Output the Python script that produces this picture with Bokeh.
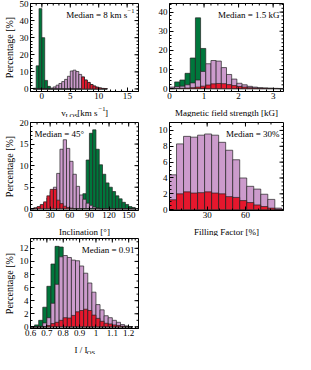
import numpy as np
from bokeh.plotting import figure
from bokeh.layouts import gridplot
from bokeh.models import Range1d, LinearAxis, Label, FixedTicker, ColumnDataSource
from bokeh.core.properties import value
from bokeh.embed import file_html
from bokeh.resources import INLINE

GREEN = "#00773c"
LILAC = "#cc9bcc"
RED = "#e6172d"
EDGE = "#222222"
FONT = "Liberation Serif"

# ---------------- data ----------------
# Panel 1: v_LOS, bin width 0.5 km/s (left edges)
v_left = [-1.5, -1.0, -0.5, 0.0, 0.5, 1.0, 1.5, 2.0, 2.5, 3.0, 3.5, 4.0, 4.5,
          5.0, 5.5, 6.0, 6.5, 7.0, 7.5, 8.0, 8.5, 9.0, 9.5, 10.0, 10.5, 11.0]
v_green = [0.4, 13.5, 47.0, 30.0, 5.0, 1.5, 0, 0, 0, 0, 0, 0, 0,
           0, 0, 0, 0, 0, 0, 0, 0, 0, 0, 0, 0, 0]
v_lilac = [0, 0, 0, 0, 0, 0, 0.5, 1.2, 2.2, 3.2, 4.3, 5.6, 7.4,
           10.5, 11.0, 10.2, 8.5, 7.0, 5.2, 3.8, 2.6, 1.7, 1.0, 0.6, 0.3, 0.15]
v_red = [0, 0, 0, 0, 0, 0, 0, 0, 0, 0, 0, 0, 0,
         0, 0, 0, 0, 7.0, 5.2, 3.8, 2.6, 1.7, 1.0, 0.6, 0.3, 0.15]

# Panel 2: field strength, bin width 0.15 kG
b_left = [0.0, 0.15, 0.3, 0.45, 0.6, 0.75, 0.9, 1.05, 1.2, 1.35, 1.5, 1.65,
          1.8, 1.95, 2.1, 2.25, 2.4, 2.55, 2.7, 2.85, 3.0, 3.15]
b_green = [0, 3.5, 4.5, 8.0, 16.0, 37.0, 21.0, 0, 0, 0, 0, 0,
           0, 0, 0, 0, 0, 0, 0, 0, 0, 0]
b_lilac = [0.8, 1.0, 1.3, 2.0, 3.0, 4.5, 9.0, 13.0, 14.7, 14.4, 11.0, 7.4,
           5.0, 2.8, 2.0, 1.2, 0.8, 0.5, 0.35, 0.25, 0.15, 0.1]
b_red = [0, 0.1, 0.2, 0.3, 0.5, 0.8, 1.3, 1.9, 2.5, 2.7, 2.6, 2.1,
         1.6, 1.1, 0.8, 0.5, 0.35, 0.25, 0.2, 0.1, 0.05, 0]

# Panel 3: inclination, bin width 5 deg
i_left = [0, 5, 10, 15, 20, 25, 30, 35, 40, 45, 50, 55, 60, 65, 70, 75, 80,
          85, 90, 95, 100, 105, 110, 115, 120, 125, 130, 135, 140, 145, 150, 155]
i_green = [0, 0, 0, 0, 0, 0, 0, 0, 0, 0, 0, 0, 0, 0, 0, 0, 3.5,
           11.3, 17.5, 18.3, 13.8, 10.2, 8.0, 6.0, 5.0, 4.0, 3.0, 2.3, 1.5, 1.0, 0.5, 0.3]
i_lilac = [0, 0.2, 0.4, 0.8, 1.3, 2.5, 4.0, 5.0, 8.2, 13.8, 16.0, 14.0, 11.0, 8.0, 5.2, 3.2, 2.2,
           1.3, 0.8, 0.4, 0.2, 0, 0, 0, 0, 0, 0, 0, 0, 0, 0, 0]
i_red = [0, 0.2, 0.5, 1.0, 1.6, 3.0, 4.5, 4.5, 2.0, 1.2, 0.6, 0.3, 0.15, 0, 0, 0, 0,
         0, 0, 0, 0, 0, 0, 0, 0, 0, 0, 0, 0, 0, 0, 0]

# Panel 4: filling factor, bin width 5.5 %
f_left = [0.5, 6.0, 11.5, 17.0, 22.5, 28.0, 33.5, 39.0, 44.5, 50.0, 55.5, 61.0,
          66.5, 72.0, 77.5, 83.0]
f_lilac = [4.4, 8.3, 9.25, 9.15, 9.4, 9.55, 9.4, 8.5, 7.5, 6.3, 4.0, 2.95,
           2.6, 1.95, 1.3, 0.2]
f_red = [1.25, 2.0, 2.25, 2.1, 2.15, 2.25, 2.1, 2.0, 1.65, 1.55, 1.15, 0.9,
         0.6, 0.4, 0.2, 0.05]

# Panel 5: continuum intensity, bin width 0.025
c_left = [0.6, 0.625, 0.65, 0.675, 0.7, 0.725, 0.75, 0.775, 0.8, 0.825, 0.85, 0.875,
          0.9, 0.925, 0.95, 0.975, 1.0, 1.025, 1.05, 1.075, 1.1, 1.125, 1.15, 1.175, 1.2]
c_green = [0, 0.3, 1.0, 3.0, 6.2, 9.6, 12.3, 12.2, 0, 0, 0, 0,
           0, 0, 0, 0, 0, 0, 0, 0, 0, 0, 0, 0, 0]
c_lilac = [0, 0, 0.1, 0.6, 1.4, 3.6, 6.5, 10.7, 10.9, 10.6, 10.2, 10.1,
           9.3, 8.2, 6.7, 5.3, 3.4, 2.6, 1.7, 1.4, 1.0, 0.7, 0.35, 0.15, 0.05]
c_red = [0, 0, 0, 0, 0.2, 0.5, 0.7, 1.0, 1.4, 1.35, 1.75, 2.3,
         2.5, 2.7, 2.5, 1.8, 1.3, 0.85, 0.55, 0.45, 0.3, 0.2, 0.1, 0.05, 0]

LBL = "Percentage [%]"
FS = "9px"      # tick labels, x labels, medians
FSS = "6.5px"   # sub/superscripts


def make_fig(w, h, xr, yr, bl, br, bt, bb):
    p = figure(width=w, height=h, x_range=Range1d(*xr), y_range=Range1d(*yr),
               output_backend="svg", toolbar_location=None, title=None,
               min_border_left=bl, min_border_right=br,
               min_border_top=bt, min_border_bottom=bb,
               x_axis_location=None, y_axis_location=None)
    p.xgrid.visible = False
    p.ygrid.visible = False
    p.outline_line_color = "black"
    p.outline_line_width = 1
    p.background_fill_color = "white"
    p.border_fill_color = "white"
    return p


def style_axis(ax):
    ax.major_tick_in = 4
    ax.major_tick_out = 0
    ax.minor_tick_in = 2
    ax.minor_tick_out = 0
    ax.axis_line_color = "black"
    ax.major_tick_line_color = "black"
    ax.minor_tick_line_color = "black"
    ax.major_label_text_font = FONT
    ax.major_label_text_color = "black"
    ax.major_label_text_font_size = FS
    ax.major_label_standoff = 1
    ax.axis_label_text_font = FONT
    ax.axis_label_text_font_style = "normal"
    ax.axis_label_text_color = "black"
    ax.axis_label_text_font_size = "10px"


def add_axes(p, xr, yr, xt, xm, yt, ym, ylabel=None):
    xb = LinearAxis(ticker=FixedTicker(ticks=xt, minor_ticks=xm))
    style_axis(xb)
    p.add_layout(xb, "below")
    yl = LinearAxis(ticker=FixedTicker(ticks=yt, minor_ticks=ym))
    style_axis(yl)
    yl.major_label_standoff = 2
    if ylabel:
        yl.axis_label = ylabel
        yl.axis_label_standoff = 2
    p.add_layout(yl, "left")
    # inward ticks on the top and right frame edges (outer half of each dash is clipped)
    xt_in = [t for t in xt if xr[0] < t < xr[1]]
    xm_in = [t for t in xm if xr[0] < t < xr[1]]
    yt_in = [t for t in yt if yr[0] < t < yr[1]]
    ym_in = [t for t in ym if yr[0] < t < yr[1]]
    p.scatter(x=xt_in, y=[yr[1]] * len(xt_in), marker="dash", angle=np.pi / 2,
              size=8, line_color="black", line_width=1)
    p.scatter(x=xm_in, y=[yr[1]] * len(xm_in), marker="dash", angle=np.pi / 2,
              size=4, line_color="black", line_width=1)
    p.scatter(x=[xr[1]] * len(yt_in), y=yt_in, marker="dash",
              size=8, line_color="black", line_width=1)
    p.scatter(x=[xr[1]] * len(ym_in), y=ym_in, marker="dash",
              size=4, line_color="black", line_width=1)


def bars(p, left, width, vals, color):
    src = ColumnDataSource(dict(left=left,
                                right=[l + width for l in left],
                                top=vals,
                                bottom=[0] * len(vals)))
    p.quad(left="left", right="right", top="top", bottom="bottom", source=src,
           fill_color=color, line_color=EDGE, line_width=0.7)


def add_median(p, xr, yr, text, sup=None, right=True):
    if right:
        off = -4
        if sup:
            p.add_layout(Label(x=xr[1], y=yr[1], x_offset=off, y_offset=-7.5,
                               text=sup, text_align="right", text_baseline="alphabetic",
                               text_font=FONT, text_font_size=FSS, text_color="black"))
            off -= 7.2
        p.add_layout(Label(x=xr[1], y=yr[1], x_offset=off, y_offset=-11,
                           text=text, text_align="right", text_baseline="alphabetic",
                           text_font=FONT, text_font_size=FS, text_color="black"))
    else:
        p.add_layout(Label(x=xr[0], y=yr[1], x_offset=4, y_offset=-11,
                           text=text, text_align="left", text_baseline="alphabetic",
                           text_font=FONT, text_font_size=FS, text_color="black"))


SH = 15   # height of the x-label strips
BY = 5.0  # baseline of x labels inside strips (from strip bottom)


def strip(w, bl, br, pieces):
    # pieces: (x px from frame left, baseline px from bottom, text, font size, align)
    s = figure(width=w, height=SH, x_range=Range1d(0, w - bl - br), y_range=Range1d(0, SH),
               output_backend="svg", toolbar_location=None, title=None,
               min_border_left=bl, min_border_right=br, min_border_top=0, min_border_bottom=0,
               x_axis_location=None, y_axis_location=None)
    s.xgrid.visible = False
    s.ygrid.visible = False
    s.outline_line_color = None
    for x, y, txt, fs, al in pieces:
        s.text(x=[x], y=[y], text=[txt], text_font=value(FONT), text_font_size=fs,
               text_align=al, text_baseline="alphabetic", text_color="black")
    return s


def mticks(a, b, step):
    return list(np.round(np.arange(a, b + step / 2, step), 6))


FW = 114
WL, WR = 147, 143

# ---------- panel 1 ----------
xr1, yr1 = (-2.0, 17.0), (-1.5, 50.0)
p1 = make_fig(WL, 102, xr1, yr1, 24, 9, 3, 11)
add_axes(p1, xr1, yr1, [0, 5, 10, 15], mticks(-2, 17, 1), [0, 10, 20, 30, 40, 50],
         mticks(0, 50, 2), LBL)
bars(p1, v_left, 0.5, v_green, GREEN)
bars(p1, v_left, 0.5, v_lilac, LILAC)
bars(p1, v_left, 0.5, v_red, RED)
add_median(p1, xr1, yr1, "Median = 8 km s", sup="\u22121")
x0 = FW / 2 - 24.6
s1 = strip(WL, 24, 9, [(x0, BY, "v", FS, "left"), (x0 + 4.6, BY - 2.5, "LOS", FSS, "left"),
                        (x0 + 16.9, BY, " [km s", FS, "left"),
                        (x0 + 39.4, BY + 3.5, "\u22121", FSS, "left"),
                        (x0 + 46.3, BY, "]", FS, "left")])

# ---------- panel 2 ----------
xr2, yr2 = (0.0, 3.3), (-1.5, 44.5)
p2 = make_fig(WR, 102, xr2, yr2, 22, 7, 3, 11)
add_axes(p2, xr2, yr2, [0, 1, 2, 3], mticks(0, 3.2, 0.2), [0, 10, 20, 30, 40],
         mticks(0, 44, 2))
bars(p2, b_left, 0.15, b_green, GREEN)
bars(p2, b_left, 0.15, b_lilac, LILAC)
bars(p2, b_left, 0.15, b_red, RED)
add_median(p2, xr2, yr2, "Median = 1.5 kG")
s2 = strip(WR, 22, 7, [(FW / 2, BY, "Magnetic field strength [kG]", FS, "center")])

# ---------- panel 3 ----------
xr3, yr3 = (0.0, 165.0), (-0.4, 20.0)
p3 = make_fig(WL, 104, xr3, yr3, 24, 9, 5, 11)
add_axes(p3, xr3, yr3, [0, 30, 60, 90, 120, 150], mticks(0, 165, 10), [0, 5, 10, 15, 20],
         mticks(0, 20, 1), LBL)
bars(p3, i_left, 5, i_green, GREEN)
bars(p3, i_left, 5, i_lilac, LILAC)
bars(p3, i_left, 5, i_red, RED)
add_median(p3, xr3, yr3, "Median = 45\u00b0", right=False)
s3 = strip(WL, 24, 9, [(FW / 2, BY, "Inclination [\u00b0]", FS, "center")])

# ---------- panel 4 ----------
xr4, yr4 = (0.5, 89.8), (-0.1, 11.0)
p4 = make_fig(WR, 104, xr4, yr4, 22, 7, 5, 11)
add_axes(p4, xr4, yr4, [0, 30, 60, 90], mticks(0, 90, 10), [0, 2, 4, 6, 8, 10],
         mticks(0, 11, 0.5))
bars(p4, f_left, 5.5, f_lilac, LILAC)
bars(p4, f_left, 5.5, f_red, RED)
add_median(p4, xr4, yr4, "Median = 30%")
s4 = strip(WR, 22, 7, [(FW / 2, BY, "Filling Factor [%]", FS, "center")])

# ---------- panel 5 ----------
xr5, yr5 = (0.6, 1.26), (-0.25, 13.5)
p5 = make_fig(WL, 103, xr5, yr5, 24, 9, 2, 11)
add_axes(p5, xr5, yr5, [0.6, 0.7, 0.8, 0.9, 1.0, 1.1, 1.2], mticks(0.6, 1.26, 0.02),
         [0, 2, 4, 6, 8, 10, 12], mticks(0, 13, 1), LBL)
bars(p5, c_left, 0.025, c_green, GREEN)
bars(p5, c_left, 0.025, c_lilac, LILAC)
bars(p5, c_left, 0.025, c_red, RED)
add_median(p5, xr5, yr5, "Median = 0.91")
x0 = FW / 2 - 10.6
s5 = strip(WL, 24, 9, [(x0, BY, "I / I", FS, "left"), (x0 + 13.1, BY - 2.5, "QS", FSS, "left")])

grid = gridplot([[p1, p2], [s1, s2], [p3, p4], [s3, s4], [p5, None], [s5, None]],
                toolbar_location=None)

open("out.html", "w").write(file_html(grid, INLINE))
